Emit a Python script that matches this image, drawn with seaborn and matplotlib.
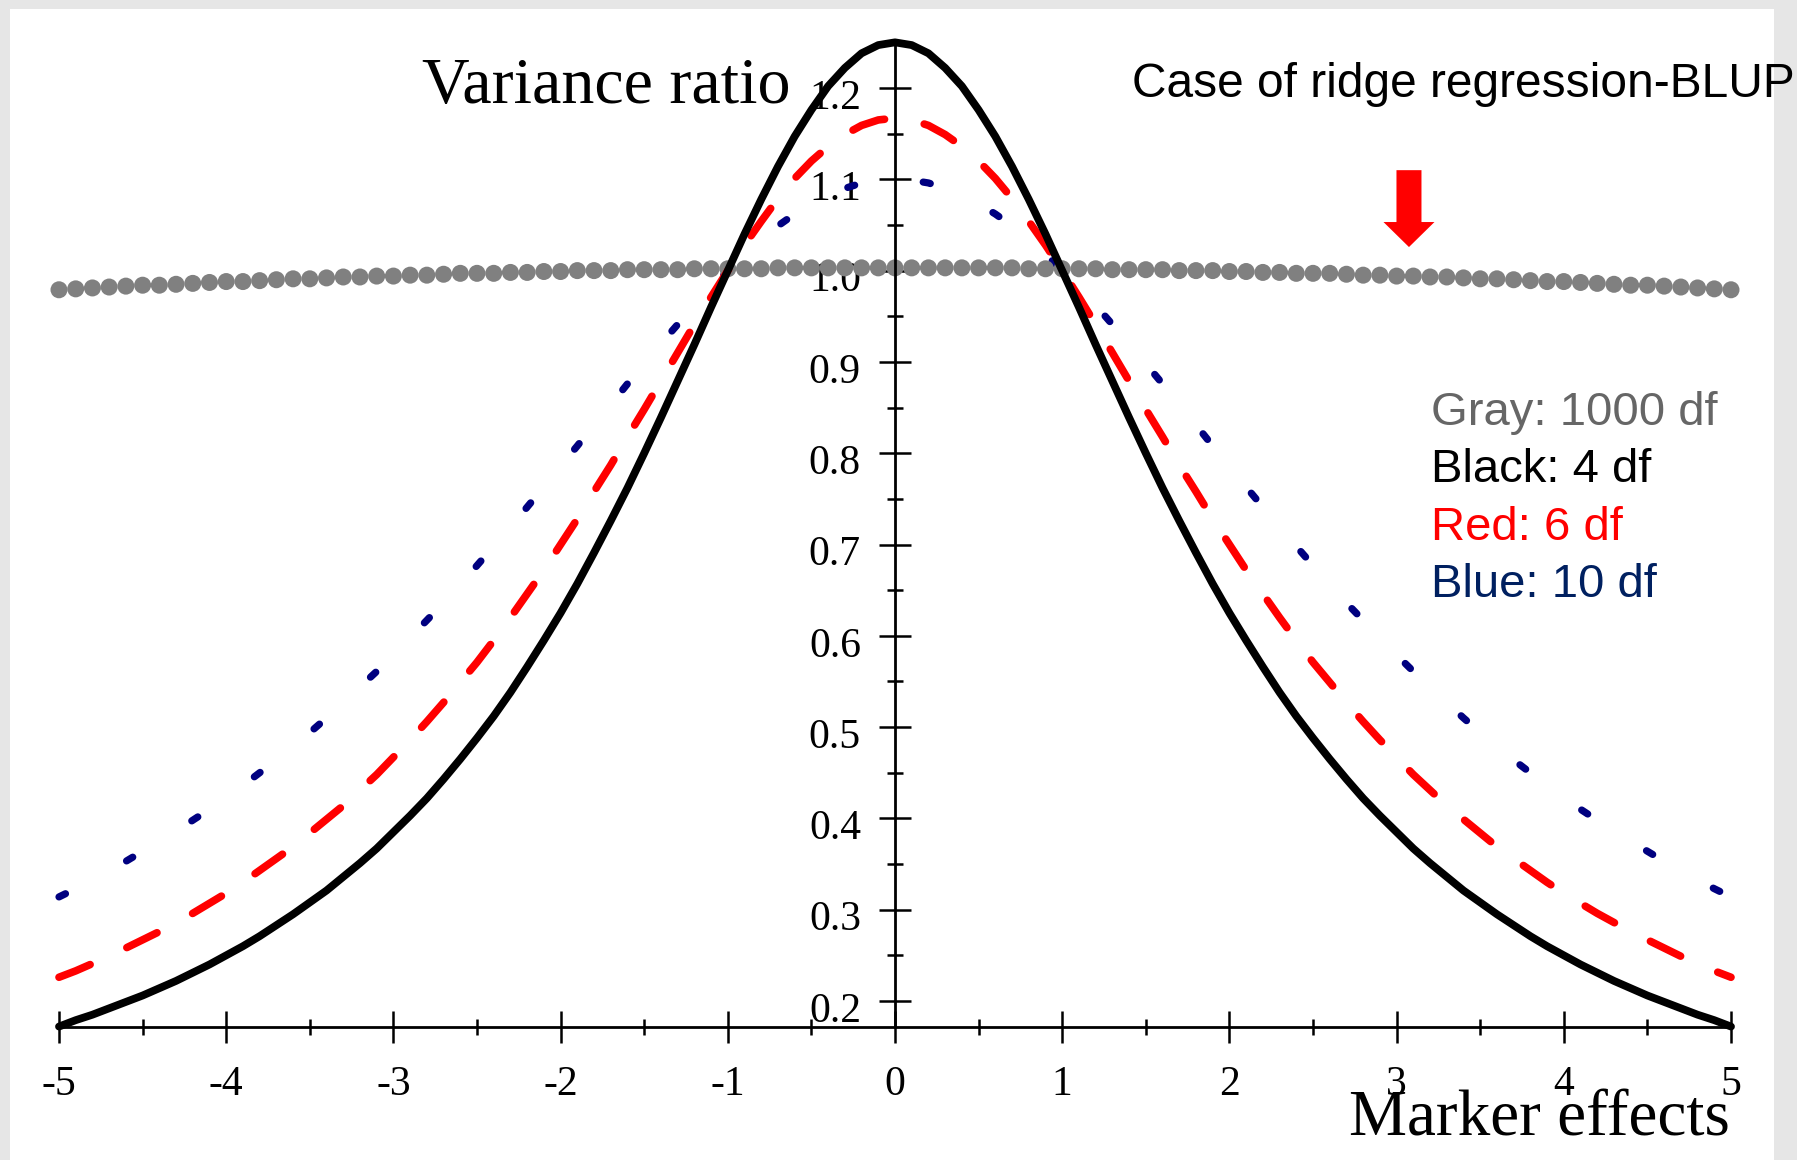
import matplotlib
matplotlib.use("Agg")
import numpy as np
import pandas as pd
import seaborn as sns
import matplotlib.pyplot as plt
import matplotlib.transforms as mtransforms
from matplotlib.patches import Rectangle
from matplotlib.ticker import FixedLocator, FormatStrFormatter

# ---------------- data ----------------
x_vals = [-5.0, -4.9, -4.8, -4.7, -4.6, -4.5, -4.4, -4.3, -4.2, -4.1,
          -4.0, -3.9, -3.8, -3.7, -3.6, -3.5, -3.4, -3.3, -3.2, -3.1,
          -3.0, -2.9, -2.8, -2.7, -2.6, -2.5, -2.4, -2.3, -2.2, -2.1,
          -2.0, -1.9, -1.8, -1.7, -1.6, -1.5, -1.4, -1.3, -1.2, -1.1,
          -1.0, -0.9, -0.8, -0.7, -0.6, -0.5, -0.4, -0.3, -0.2, -0.1,
          0.0, 0.1, 0.2, 0.3, 0.4, 0.5, 0.6, 0.7, 0.8, 0.9,
          1.0, 1.1, 1.2, 1.3, 1.4, 1.5, 1.6, 1.7, 1.8, 1.9,
          2.0, 2.1, 2.2, 2.3, 2.4, 2.5, 2.6, 2.7, 2.8, 2.9,
          3.0, 3.1, 3.2, 3.3, 3.4, 3.5, 3.6, 3.7, 3.8, 3.9,
          4.0, 4.1, 4.2, 4.3, 4.4, 4.5, 4.6, 4.7, 4.8, 4.9, 5.0]

black_4df = [0.172, 0.179, 0.185, 0.192, 0.199, 0.206, 0.214, 0.222, 0.231, 0.240,
             0.250, 0.260, 0.271, 0.283, 0.295, 0.308, 0.321, 0.336, 0.351, 0.367,
             0.385, 0.403, 0.422, 0.443, 0.465, 0.488, 0.512, 0.538, 0.566, 0.595,
             0.625, 0.657, 0.691, 0.726, 0.762, 0.800, 0.839, 0.879, 0.919, 0.960,
             1.000, 1.040, 1.078, 1.114, 1.147, 1.176, 1.202, 1.222, 1.238, 1.247,
             1.250, 1.247, 1.238, 1.222, 1.202, 1.176, 1.147, 1.114, 1.078, 1.040,
             1.000, 0.960, 0.919, 0.879, 0.839, 0.800, 0.762, 0.726, 0.691, 0.657,
             0.625, 0.595, 0.566, 0.538, 0.512, 0.488, 0.465, 0.443, 0.422, 0.403,
             0.385, 0.367, 0.351, 0.336, 0.321, 0.308, 0.295, 0.283, 0.271, 0.260,
             0.250, 0.240, 0.231, 0.222, 0.214, 0.206, 0.199, 0.192, 0.185, 0.179, 0.172]

red_6df = [0.226, 0.233, 0.241, 0.249, 0.258, 0.267, 0.276, 0.286, 0.296, 0.307,
           0.318, 0.330, 0.343, 0.356, 0.369, 0.384, 0.399, 0.414, 0.431, 0.448,
           0.467, 0.486, 0.506, 0.527, 0.549, 0.571, 0.595, 0.620, 0.646, 0.672,
           0.700, 0.728, 0.758, 0.787, 0.818, 0.848, 0.879, 0.910, 0.941, 0.971,
           1.000, 1.028, 1.054, 1.079, 1.101, 1.120, 1.136, 1.149, 1.159, 1.165,
           1.167, 1.165, 1.159, 1.149, 1.136, 1.120, 1.101, 1.079, 1.054, 1.028,
           1.000, 0.971, 0.941, 0.910, 0.879, 0.848, 0.818, 0.787, 0.758, 0.728,
           0.700, 0.672, 0.646, 0.620, 0.595, 0.571, 0.549, 0.527, 0.506, 0.486,
           0.467, 0.448, 0.431, 0.414, 0.399, 0.384, 0.369, 0.356, 0.343, 0.330,
           0.318, 0.307, 0.296, 0.286, 0.276, 0.267, 0.258, 0.249, 0.241, 0.233, 0.226]

blue_10df = [0.314, 0.323, 0.333, 0.343, 0.353, 0.364, 0.375, 0.386, 0.398, 0.410,
             0.423, 0.436, 0.450, 0.464, 0.479, 0.494, 0.510, 0.527, 0.544, 0.561,
             0.579, 0.598, 0.617, 0.636, 0.656, 0.677, 0.698, 0.719, 0.741, 0.763,
             0.786, 0.808, 0.831, 0.853, 0.876, 0.898, 0.920, 0.941, 0.962, 0.981,
             1.000, 1.018, 1.034, 1.049, 1.062, 1.073, 1.083, 1.090, 1.096, 1.099,
             1.100, 1.099, 1.096, 1.090, 1.083, 1.073, 1.062, 1.049, 1.034, 1.018,
             1.000, 0.981, 0.962, 0.941, 0.920, 0.898, 0.876, 0.853, 0.831, 0.808,
             0.786, 0.763, 0.741, 0.719, 0.698, 0.677, 0.656, 0.636, 0.617, 0.598,
             0.579, 0.561, 0.544, 0.527, 0.510, 0.494, 0.479, 0.464, 0.450, 0.436,
             0.423, 0.410, 0.398, 0.386, 0.375, 0.364, 0.353, 0.343, 0.333, 0.323, 0.314]

gray_1000df = [0.979, 0.980, 0.981, 0.982, 0.983, 0.984, 0.984, 0.985, 0.986, 0.987,
               0.988, 0.988, 0.989, 0.990, 0.991, 0.991, 0.992, 0.993, 0.993, 0.994,
               0.994, 0.995, 0.995, 0.996, 0.997, 0.997, 0.997, 0.998, 0.998, 0.999,
               0.999, 1.000, 1.000, 1.000, 1.001, 1.001, 1.001, 1.001, 1.002, 1.002,
               1.002, 1.002, 1.002, 1.003, 1.003, 1.003, 1.003, 1.003, 1.003, 1.003,
               1.003, 1.003, 1.003, 1.003, 1.003, 1.003, 1.003, 1.003, 1.002, 1.002,
               1.002, 1.002, 1.002, 1.001, 1.001, 1.001, 1.001, 1.000, 1.000, 1.000,
               0.999, 0.999, 0.998, 0.998, 0.997, 0.997, 0.997, 0.996, 0.995, 0.995,
               0.994, 0.994, 0.993, 0.993, 0.992, 0.991, 0.991, 0.990, 0.989, 0.988,
               0.988, 0.987, 0.986, 0.985, 0.984, 0.984, 0.983, 0.982, 0.981, 0.980, 0.979]

x_ticks = [-5, -4, -3, -2, -1, 0, 1, 2, 3, 4, 5]
x_minor = [-4.5, -3.5, -2.5, -1.5, -0.5, 0.5, 1.5, 2.5, 3.5, 4.5]
y_ticks = [0.2, 0.3, 0.4, 0.5, 0.6, 0.7, 0.8, 0.9, 1.0, 1.1, 1.2]
y_minor = [0.25, 0.35, 0.45, 0.55, 0.65, 0.75, 0.85, 0.95, 1.05, 1.15]

legend_lines = ["Gray: 1000 df", "Black: 4 df", "Red: 6 df", "Blue: 10 df"]
legend_colors = ["#666666", "#000000", "#ff0000", "#002060"]

# ---------------- style ----------------
sns.set_style("white")
plt.rcParams["axes.unicode_minus"] = False
plt.rcParams["font.family"] = ["Liberation Serif", "DejaVu Serif"]

W, H = 1797, 1160
fig = plt.figure(figsize=(W / 100, H / 100), dpi=100, facecolor="#e6e6e6")
fig.patches.append(Rectangle((10 / W, 0), (1774 - 10) / W, (H - 9) / H,
                             transform=fig.transFigure, facecolor="white",
                             edgecolor="none", zorder=-10))

# pixel mapping of the data
x0px, sx = 895.0, 167.2
y02px, sy = 1001.0, 913.0
xlim = (-5.3, 5.3)
ylim = (0.1, 1.29)
left = (x0px + sx * xlim[0]) / W
right = (x0px + sx * xlim[1]) / W
top_px = y02px - (ylim[1] - 0.2) * sy
bot_px = y02px - (ylim[0] - 0.2) * sy
ax = fig.add_axes([left, 1 - bot_px / H, right - left, (bot_px - top_px) / H])
ax.set_facecolor("none")

df = pd.DataFrame({"x": x_vals, "black": black_4df, "red": red_6df,
                   "blue": blue_10df, "gray": gray_1000df})

sns.lineplot(data=df, x="x", y="blue", ax=ax, color="#000080", linewidth=5.2,
             linestyle=(0, (1.0, 9.6)), dash_capstyle="round",
             sort=False, estimator=None, zorder=3)
sns.scatterplot(data=df, x="x", y="gray", ax=ax, color="#808080", s=150,
                edgecolor="none", linewidth=0, zorder=3.2)
sns.lineplot(data=df, x="x", y="red", ax=ax, color="#ff0000", linewidth=5.5,
             linestyle=(0, (4.4, 5.3)), dash_capstyle="round",
             sort=False, estimator=None, zorder=3.4)
sns.lineplot(data=df, x="x", y="black", ax=ax, color="#000000", linewidth=5.6,
             solid_capstyle="round", solid_joinstyle="round",
             sort=False, estimator=None, zorder=3.6)

ax.set_xlim(*xlim)
ax.set_ylim(*ylim)
ax.set_xlabel("")
ax.set_ylabel("")

axis_y = 0.1715
for s in ["top", "right"]:
    ax.spines[s].set_visible(False)
ax.spines["left"].set_position(("data", 0))
ax.spines["bottom"].set_position(("data", axis_y))
ax.spines["left"].set_bounds(axis_y, 1.25)
ax.spines["bottom"].set_bounds(-5, 5)
for s in ["left", "bottom"]:
    ax.spines[s].set_linewidth(2.0)
    ax.spines[s].set_color("black")
    ax.spines[s].set_zorder(3.3)

ax.xaxis.set_major_locator(FixedLocator(x_ticks))
ax.xaxis.set_minor_locator(FixedLocator(x_minor))
ax.yaxis.set_major_locator(FixedLocator(y_ticks))
ax.yaxis.set_minor_locator(FixedLocator(y_minor))
ax.xaxis.set_major_formatter(FormatStrFormatter("%d"))
ax.yaxis.set_major_formatter(FormatStrFormatter("%.1f"))

ax.tick_params(which="both", bottom=True, left=True, top=False, right=False)
ax.tick_params(which="major", direction="inout", length=23, width=1.8,
               color="black", labelsize=30, labelcolor="black")
ax.tick_params(which="minor", direction="inout", length=11.5, width=1.8, color="black")
ax.tick_params(axis="x", which="major", pad=16)
ax.tick_params(axis="y", which="major", pad=13)

off = mtransforms.ScaledTranslation(0, -6 / 100, fig.dpi_scale_trans)
for lbl in ax.get_yticklabels():
    lbl.set_transform(lbl.get_transform() + off)

# arrow
arrow_x = 3.074
ax.arrow(arrow_x, 1.110, 0, -(1.110 - 1.0258), width=25 / sx, head_width=51 / sx,
         head_length=0.0274, length_includes_head=True, color="#ff0000",
         linewidth=0, zorder=5)

# texts
def ftext(px, py, s, **kw):
    fig.text(px / W, 1 - py / H, s, **kw)

ftext(422, 103, "Variance ratio", fontsize=47.5, family=["Liberation Serif"],
      ha="left", va="baseline", color="black")
ftext(1730, 1135, "Marker effects", fontsize=47, family=["Liberation Serif"],
      ha="right", va="baseline", color="black")
ftext(1132, 97, "Case of ridge regression-BLUP", fontsize=34.5,
      family=["Liberation Sans"], ha="left", va="baseline", color="black")
for i, (t, c) in enumerate(zip(legend_lines, legend_colors)):
    ftext(1431, 425 + i * 57.3, t, fontsize=34, family=["Liberation Sans"],
          ha="left", va="baseline", color=c)

fig.savefig("out.png", dpi=100, facecolor=fig.get_facecolor())
